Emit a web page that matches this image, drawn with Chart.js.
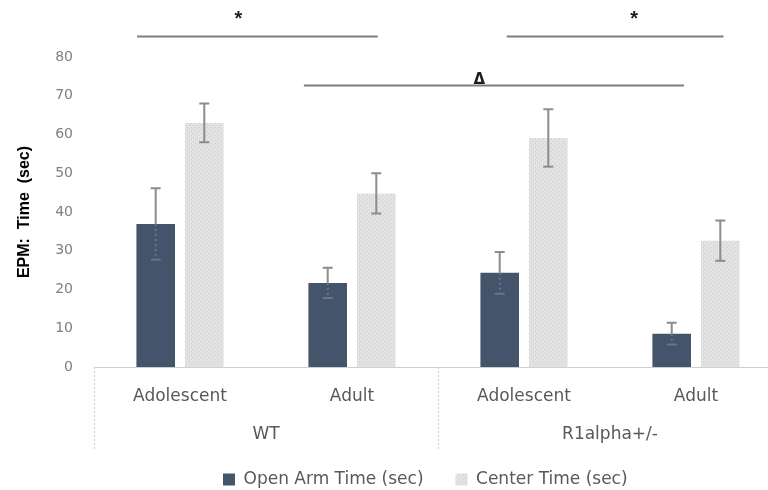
<!DOCTYPE html>
<html lang="en">
<head>
<meta charset="UTF-8">
<meta name="viewport" content="width=device-width, initial-scale=1.0">
<title>EPM time by genotype and age</title>
<style>
  html, body { margin: 0; padding: 0; background: #fff; overflow: hidden; }
  .wrap { width: 782px; height: 490px; }
</style>
</head>
<body>
<div class="wrap"><canvas id="epmChart"></canvas></div>

<script src="https://cdn.jsdelivr.net/npm/chart.js@4.4.0/dist/chart.umd.min.js"></script>
<script>
// genotype groups, each holding two age categories
const groups = ["WT", "R1alpha+/-"];
const ages = ["Adolescent", "Adult", "Adolescent", "Adult"];

const openArm = [36.9, 21.7, 24.3, 8.6];
const openArmErr = [9.2, 3.9, 5.4, 2.8];
const centerTime = [63.0, 44.8, 59.1, 32.6];
const centerErr = [5.0, 5.2, 7.4, 5.2];

const yTicks = { min: 0, max: 80, step: 10 };

// significance brackets (x in category index units, y in seconds)
const brackets = [
    { from: -0.25, to: 1.15, y: 85.5, label: "*", at: 0.34 },
    { from: 0.72, to: 2.93, y: 72.7, label: "\u0394", at: 1.74 },
    { from: 1.9, to: 3.16, y: 85.5, label: "*", at: 2.64 }
];

// dotted light grey fill for the center time bars
function dotPattern() {
    const c = document.createElement("canvas");
    c.width = 4; c.height = 4;
    const g = c.getContext("2d");
    g.fillStyle = "#e3e3e3";
    g.fillRect(0, 0, 4, 4);
    g.fillStyle = "#cbcbcb";
    g.fillRect(1, 1, 1, 1);
    g.fillRect(3, 3, 1, 1);
    return g.createPattern(c, "repeat");
}

const errorBars = {
    id: "errorBars",
    afterDatasetsDraw(chart) {
        const ctx = chart.ctx;
        const ys = chart.scales.y;
        const errs = [openArmErr, centerErr];
        chart.data.datasets.forEach((ds, d) => {
            chart.getDatasetMeta(d).data.forEach((bar, i) => {
                const v = ds.data[i], e = errs[d][i];
                const top = ys.getPixelForValue(v + e);
                const mid = ys.getPixelForValue(v);
                const bot = ys.getPixelForValue(v - e);
                ctx.save();
                ctx.lineWidth = 2;
                ctx.strokeStyle = "#8c8c8c";
                ctx.beginPath();
                ctx.moveTo(bar.x, top); ctx.lineTo(bar.x, mid);
                ctx.moveTo(bar.x - 5, top); ctx.lineTo(bar.x + 5, top);
                ctx.stroke();
                // the part inside the dark bars is barely visible
                if (d === 0) {
                    ctx.strokeStyle = "#6a7484";
                    ctx.setLineDash([2, 3]);
                }
                ctx.beginPath();
                ctx.moveTo(bar.x, mid); ctx.lineTo(bar.x, bot);
                ctx.stroke();
                ctx.setLineDash([]);
                ctx.beginPath();
                ctx.moveTo(bar.x - 5, bot); ctx.lineTo(bar.x + 5, bot);
                ctx.stroke();
                ctx.restore();
            });
        });
    }
};

const extras = {
    id: "extras",
    afterLayout(chart) {
        // move legend to the right a bit
        chart.legend.left += 191;
        chart.legend.right += 191;
    },
    afterDraw(chart) {
        const ctx = chart.ctx;
        const xs = chart.scales.x, ys = chart.scales.y;
        const half = (xs.getPixelForValue(1) - xs.getPixelForValue(0)) / 2;
        const base = ys.getPixelForValue(0);
        ctx.save();

        // group separators and group labels under the age labels
        ctx.strokeStyle = "#d0d0d0";
        ctx.lineWidth = 1;
        ctx.setLineDash([2, 2]);
        groups.forEach((g, k) => {
            const xl = Math.round(xs.getPixelForValue(k * 2) - half) + 0.5;
            ctx.beginPath();
            ctx.moveTo(xl, base);
            ctx.lineTo(xl, base + 82);
            ctx.stroke();
        });
        ctx.setLineDash([]);
        ctx.fillStyle = "#595959";
        ctx.font = "17px 'DejaVu Sans'";
        ctx.textAlign = "center";
        ctx.textBaseline = "middle";
        groups.forEach((g, k) => {
            const xc = (xs.getPixelForValue(k * 2) + xs.getPixelForValue(k * 2 + 1)) / 2;
            ctx.fillText(g, xc, base + 68);
        });

        // significance brackets
        brackets.forEach(b => {
            const y = Math.round(ys.getPixelForValue(b.y)) + 0.5;
            ctx.strokeStyle = "#7f7f7f";
            ctx.lineWidth = 2;
            ctx.beginPath();
            ctx.moveTo(xs.getPixelForValue(b.from), y);
            ctx.lineTo(xs.getPixelForValue(b.to), y);
            ctx.stroke();
            ctx.fillStyle = "#1f1f1f";
            ctx.textAlign = "center";
            if (b.label === "*") {
                ctx.font = "bold 20px 'Liberation Sans'";
                ctx.textBaseline = "alphabetic";
                ctx.fillText(b.label, xs.getPixelForValue(b.at), y - 12);
            } else {
                ctx.font = "bold 15px 'DejaVu Sans'";
                ctx.textBaseline = "bottom";
                ctx.fillText(b.label, xs.getPixelForValue(b.at), y + 2);
            }
        });
        ctx.restore();
    }
};

new Chart(document.getElementById("epmChart"), {
    type: "bar",
    data: {
        labels: ages,
        datasets: [
            {
                label: "Open Arm Time (sec)",
                data: openArm,
                backgroundColor: "#44546a",
                categoryPercentage: 0.565,
                barPercentage: 0.794
            },
            {
                label: "Center Time (sec)",
                data: centerTime,
                backgroundColor: dotPattern(),
                categoryPercentage: 0.565,
                barPercentage: 0.794
            }
        ]
    },
    options: {
        responsive: true,
        maintainAspectRatio: false,
        animation: false,
        layout: { padding: { top: 57, left: 0, right: 0, bottom: -8 } },
        plugins: {
            tooltip: { enabled: false },
            legend: {
                position: "bottom",
                align: "start",
                labels: {
                    color: "#595959",
                    font: { family: "DejaVu Sans", size: 17 },
                    boxWidth: 12,
                    boxHeight: 12,
                    padding: 32
                }
            }
        },
        scales: {
            x: {
                grid: { display: false },
                border: { display: true, color: "#d0d0d0", dash: [2, 2], width: 1 },
                ticks: {
                    color: "#595959",
                    font: { family: "DejaVu Sans", size: 17 },
                    padding: 11
                },
                afterFit(s) { s.height = 72; }
            },
            y: {
                min: yTicks.min,
                max: yTicks.max,
                grid: { display: false },
                border: { display: false },
                ticks: {
                    stepSize: yTicks.step,
                    color: "#7f7f7f",
                    font: { family: "DejaVu Sans", size: 14 },
                    padding: 13
                },
                title: {
                    display: true,
                    text: "EPM:  Time  (sec)",
                    color: "#000",
                    font: { family: "Liberation Sans", size: 16, weight: "bold" },
                    padding: { top: 15, bottom: 0 }
                },
                afterFit(s) { s.width = 94; }
            }
        }
    },
    plugins: [errorBars, extras]
});
</script>
</body>
</html>
